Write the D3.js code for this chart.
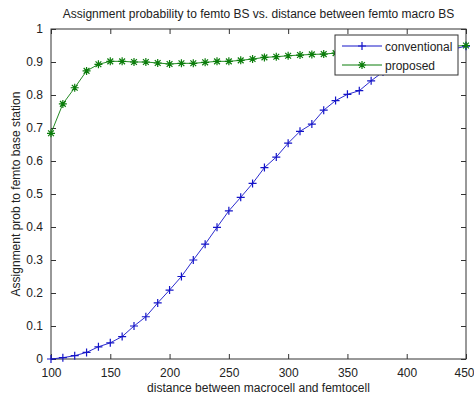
<!DOCTYPE html>
<html>
<head>
<meta charset="utf-8">
<script src="https://cdn.jsdelivr.net/npm/d3@7"></script>
<style>
  body { margin: 0; background: #fff; }
  svg text { font-family: "Liberation Sans", Arial, sans-serif; fill: #222; }
</style>
</head>
<body>
<div id="chart"></div>
<script>
// distance (m), one sample every 10
var distance = d3.range(100, 451, 10);

var conventional = [0, 0.004, 0.01, 0.02, 0.037, 0.049, 0.068, 0.1, 0.128, 0.17,
  0.209, 0.25, 0.3, 0.348, 0.399, 0.449, 0.49, 0.532, 0.58, 0.612,
  0.654, 0.69, 0.712, 0.754, 0.783, 0.802, 0.813, 0.843, 0.87, 0.885,
  0.9, 0.91, 0.92, 0.93, 0.94, 0.948];

var proposed = [0.684, 0.773, 0.822, 0.873, 0.893, 0.902, 0.902, 0.9, 0.9, 0.897,
  0.894, 0.896, 0.896, 0.899, 0.902, 0.902, 0.905, 0.909, 0.914, 0.916,
  0.919, 0.921, 0.923, 0.924, 0.927, 0.93, 0.933, 0.936, 0.939, 0.941,
  0.943, 0.945, 0.946, 0.947, 0.948, 0.95];

var xTicks = [100, 150, 200, 250, 300, 350, 400, 450];
var yTicks = [0, 0.1, 0.2, 0.3, 0.4, 0.5, 0.6, 0.7, 0.8, 0.9, 1];

var titleText = "Assignment probability to femto BS vs. distance between femto macro BS";
var xLabel = "distance between macrocell and femtocell";
var yLabel = "Assignment prob to femto base station";

var W = 474, H = 396;
var margin = {top: 29, right: 8, bottom: 37, left: 51};
var w = W - margin.left - margin.right,
    h = H - margin.top - margin.bottom;

var svg = d3.select("#chart").append("svg").attr("width", W).attr("height", H);
var g = svg.append("g").attr("transform", "translate(" + margin.left + "," + margin.top + ")");

var x = d3.scaleLinear().domain([100, 450]).range([0, w]);
var y = d3.scaleLinear().domain([0, 1]).range([h, 0]);

var axisColor = "#333";
var tk = 5;

// bottom axis
var xb = g.append("g").attr("transform", "translate(0," + h + ")")
  .call(d3.axisBottom(x).tickValues(xTicks).tickSizeInner(-tk).tickSizeOuter(0).tickPadding(9));
xb.selectAll("text").style("font-size", "12px");
// last label sits against the right edge, nudge it in a little
xb.selectAll("text").filter(function(d) { return d === 450; }).attr("dx", "-2");
// top axis ticks
var xt = g.append("g")
  .call(d3.axisTop(x).tickValues(xTicks).tickSizeInner(-tk).tickSizeOuter(0).tickFormat(""));
// left axis
var yl = g.append("g")
  .call(d3.axisLeft(y).tickValues(yTicks).tickSizeInner(-tk).tickSizeOuter(0).tickPadding(8).tickFormat(d3.format("")));
yl.selectAll("text").style("font-size", "12px");
// right axis ticks
var yr = g.append("g").attr("transform", "translate(" + w + ",0)")
  .call(d3.axisRight(y).tickValues(yTicks).tickSizeInner(-tk).tickSizeOuter(0).tickFormat(""));

[xb, xt, yl, yr].forEach(function(a) {
  a.select(".domain").remove();
  a.selectAll("line").attr("stroke", axisColor);
});

g.append("rect")
  .attr("width", w).attr("height", h)
  .attr("fill", "none").attr("stroke", axisColor).attr("stroke-width", 1);

var line = d3.line()
  .x(function(d) { return x(d[0]); })
  .y(function(d) { return y(d[1]); });

function plus(sel, s) {
  sel.append("path").attr("d", "M" + (-s) + ",0H" + s + "M0," + (-s) + "V" + s);
}
function star(sel, s) {
  var k = s * 0.72;
  sel.append("path").attr("d", "M" + (-s) + ",0H" + s + "M0," + (-s) + "V" + s +
    "M" + (-k) + "," + (-k) + "L" + k + "," + k + "M" + (-k) + "," + k + "L" + k + "," + (-k));
}

var series = [
  {name: "conventional", values: conventional, color: "#1414c8", marker: plus},
  {name: "proposed", values: proposed, color: "#0b7d0b", marker: star}
];

series.forEach(function(s) {
  var pts = distance.map(function(d, i) { return [d, s.values[i]]; });
  g.append("path").datum(pts)
    .attr("fill", "none").attr("stroke", s.color).attr("stroke-width", 0.9)
    .attr("d", line);
  var m = g.append("g").attr("stroke", s.color).attr("stroke-width", 1.2).attr("fill", "none");
  pts.forEach(function(p) {
    var mk = m.append("g").attr("transform", "translate(" + x(p[0]) + "," + y(p[1]) + ")");
    s.marker(mk, 4);
  });
});

// legend
var lg = svg.append("g").attr("transform", "translate(335,35)");
lg.append("rect").attr("width", 123).attr("height", 40)
  .attr("fill", "#fff").attr("stroke", axisColor);
series.forEach(function(s, i) {
  var yy = 11 + i * 19;
  lg.append("line").attr("x1", 7).attr("x2", 47).attr("y1", yy).attr("y2", yy)
    .attr("stroke", s.color);
  var mk = lg.append("g").attr("transform", "translate(27," + yy + ")")
    .attr("stroke", s.color).attr("stroke-width", 1.2).attr("fill", "none");
  s.marker(mk, 4);
  lg.append("text").attr("x", 50).attr("y", yy + 4.5)
    .style("font-size", "12px").text(s.name);
});

// title and axis labels
svg.append("text").attr("x", margin.left + w / 2).attr("y", 18)
  .attr("text-anchor", "middle").style("font-size", "12px").text(titleText);
svg.append("text").attr("x", margin.left + w / 2).attr("y", 392)
  .attr("text-anchor", "middle").style("font-size", "12px").text(xLabel);
svg.append("text")
  .attr("transform", "translate(20," + (margin.top + h / 2) + ") rotate(-90)")
  .attr("text-anchor", "middle").style("font-size", "12px").text(yLabel);
</script>
</body>
</html>
